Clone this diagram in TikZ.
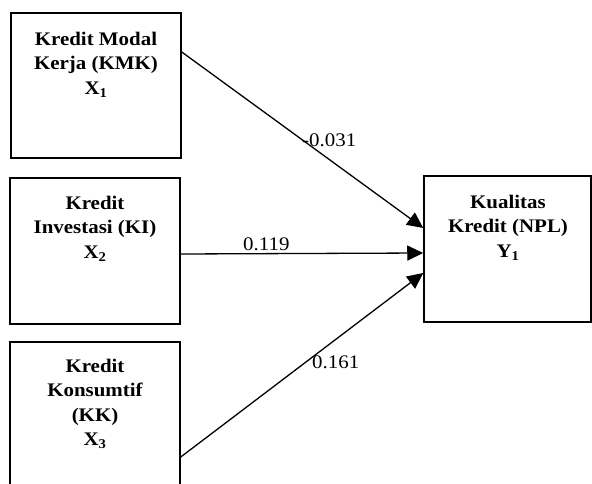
\documentclass[tikz,border=0pt]{standalone}
\usepackage{fontspec}
\setmainfont{Liberation Serif}[FakeStretch=1.09]
\usetikzlibrary{arrows.meta}
\begin{document}
\begin{tikzpicture}[x=1pt,y=-1pt,
  box/.style={draw,line width=1.5pt,inner sep=0pt},
  lbl/.style={font=\fontsize{19.2}{24.3}\selectfont\bfseries,align=center,anchor=north,inner sep=0pt},
  num/.style={font=\fontsize{19.2}{23}\selectfont,inner sep=0pt,anchor=base west},
  arr/.style={line width=1.3pt,-{Triangle[length=16pt,width=15pt]}}]
\useasboundingbox (0,0) rectangle (592,484);
% boxes
\node[box,minimum width=170pt,minimum height=145pt] (k1) at (96,85.5) {};
\node[box,minimum width=170pt,minimum height=146pt] (k2) at (95,251) {};
\node[box,minimum width=170pt,minimum height=158pt] (k3) at (95,421) {};
\node[box,minimum width=167pt,minimum height=146pt] (ky) at (507.5,249) {};
% texts
\node[lbl] (t1) at (96,32) {Kredit Modal\\Kerja (KMK)\\X\textsubscript{1}};
\node[lbl] (t2) at (95,196) {Kredit\\Investasi (KI)\\X\textsubscript{2}};
\node[lbl] (t3) at (95,359) {Kredit\\Konsumtif\\(KK)\\X\textsubscript{3}};
\node[lbl] (ty) at (508,195) {Kualitas\\Kredit (NPL)\\Y\textsubscript{1}};
% arrows
\draw[arr] ([yshift=33.5pt]k1.east) -- ([yshift=21pt]ky.west);
\draw[arr] ([yshift=-3pt]k2.east) -- ([yshift=-4pt]ky.west);
\draw[arr] ([yshift=-36pt]k3.east) -- ([yshift=-24pt]ky.west);
% coefficients
\node[num] (c1) at (302,147) {-0.031};
\node[num] (c2) at (243,250) {0.119};
\node[num] (c3) at (312,368) {0.161};
\end{tikzpicture}
\end{document}
